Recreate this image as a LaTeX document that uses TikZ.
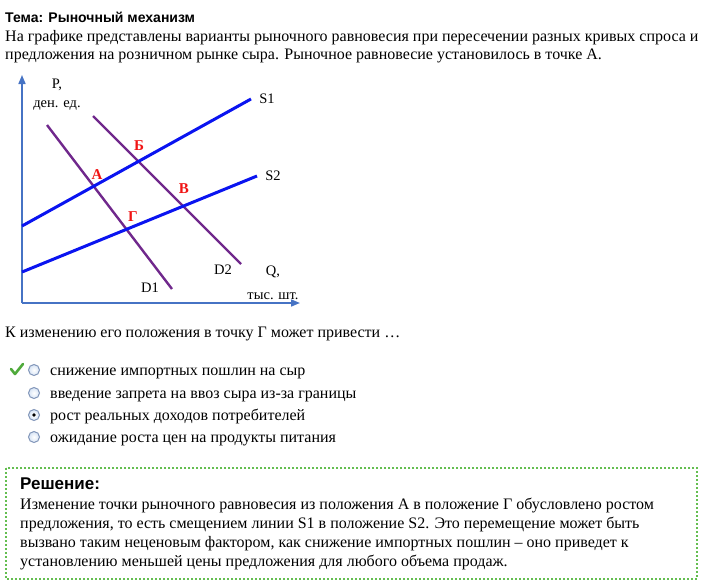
\documentclass[tikz,border=0pt]{standalone}
\usepackage{fontspec}
\setmainfont{Liberation Serif}
\newfontfamily\hsans{Liberation Sans}
\usetikzlibrary{arrows.meta}
\definecolor{axisblue}{RGB}{70,115,196}
\definecolor{supblue}{RGB}{10,20,240}
\definecolor{dempurple}{RGB}{112,40,140}
\definecolor{ptred}{RGB}{240,20,20}
\definecolor{boxgreen}{RGB}{100,190,80}
\definecolor{chkgreen}{RGB}{80,170,60}
\definecolor{radioedge}{RGB}{130,150,185}
\definecolor{radiofill}{RGB}{215,228,245}
\tikzset{
  txt/.style={anchor=base west, inner sep=0pt, font=\fontsize{16}{18}\selectfont},
  glabel/.style={anchor=center, inner sep=0pt, font=\fontsize{14.5}{16}\selectfont},
  ptlabel/.style={anchor=center, inner sep=0pt, text=ptred, font=\fontsize{15}{16}\selectfont\bfseries},
  axisline/.style={draw=axisblue, line width=1.6pt, -{Triangle[length=9pt,width=7pt]}},
  supline/.style={draw=supblue, line width=3pt},
  demline/.style={draw=dempurple, line width=2.4pt},
  radio/.style={circle, draw=radioedge, line width=1pt, inner color=white, outer color=radiofill, minimum size=11pt, inner sep=0pt},
}
\begin{document}
\begin{tikzpicture}[x=1pt,y=-1pt]
\useasboundingbox (0,0) rectangle (702,584);
% header
\node[txt, font=\hsans\bfseries\fontsize{14}{16}\selectfont] (title) at (5,22) {Тема: Рыночный механизм};
\node[txt] (intro1) at (5,41) {На графике представлены варианты рыночного равновесия при пересечении разных кривых спроса и};
\node[txt] (intro2) at (5,59) {предложения на розничном рынке сыра. Рыночное равновесие установилось в точке А.};
% graph
\coordinate (origin) at (22,303);
\coordinate (ytop) at (22,75);
\coordinate (xend) at (300,303);
\draw[axisline] (origin) -- (ytop);
\draw[axisline] (origin) -- (xend);
\coordinate (s1a) at (22,226);
\coordinate (s1b) at (251,99);
\coordinate (s2a) at (22,272);
\coordinate (s2b) at (257,176);
\coordinate (d1a) at (47,125);
\coordinate (d1b) at (172,289);
\coordinate (d2a) at (93,116);
\coordinate (d2b) at (241,264);
\draw[demline] (d1a) -- (d1b);
\draw[demline] (d2a) -- (d2b);
\draw[supline] (s1a) -- (s1b);
\draw[supline] (s2a) -- (s2b);
\node[glabel] (plab) at (57,85) {P,};
\node[glabel] (punit) at (57,105) {ден. ед.};
\node[glabel] (s1lab) at (267,99) {S1};
\node[glabel] (s2lab) at (273,176) {S2};
\node[glabel] (d1lab) at (150,288) {D1};
\node[glabel] (d2lab) at (223,270) {D2};
\node[glabel] (qlab) at (273,272) {Q,};
\node[glabel] (qunit) at (273,296) {тыс. шт.};
\node[ptlabel] (pA) at (97,175) {А};
\node[ptlabel] (pB) at (139,146) {Б};
\node[ptlabel] (pV) at (184,189) {В};
\node[ptlabel] (pG) at (133,217) {Г};
% question
\node[txt] (question) at (5,337) {К изменению его положения в точку Г может привести …};
\draw[chkgreen, line width=2.6pt, line cap=round, line join=round] (11,369) -- (15,374) -- (23,364);
\node[radio] (r1) at (34,370) {};
\node[radio] (r2) at (34,393) {};
\node[radio] (r3) at (34,415) {};
\node[radio] (r4) at (34,437) {};
\fill[black] (r3.center) circle (1.8pt);
\node[txt] (o1) at (50,375) {снижение импортных пошлин на сыр};
\node[txt] (o2) at (50,398) {введение запрета на ввоз сыра из-за границы};
\node[txt] (o3) at (50,420) {рост реальных доходов потребителей};
\node[txt] (o4) at (50,442) {ожидание роста цен на продукты питания};
% solution box
\draw[boxgreen, line width=1.3pt, dash pattern=on 2pt off 2pt] (6,468) rectangle (697,579);
\node[txt, font=\hsans\bfseries\fontsize{17}{20}\selectfont] (soltitle) at (20,489) {Решение:};
\node[txt] (sol1) at (20,509) {Изменение точки рыночного равновесия из положения А в положение Г обусловлено ростом};
\node[txt] (sol2) at (20,528) {предложения, то есть смещением линии S1 в положение S2. Это перемещение может быть};
\node[txt] (sol3) at (20,547) {вызвано таким неценовым фактором, как снижение импортных пошлин – оно приведет к};
\node[txt] (sol4) at (20,566) {установлению меньшей цены предложения для любого объема продаж.};
\end{tikzpicture}
\end{document}
